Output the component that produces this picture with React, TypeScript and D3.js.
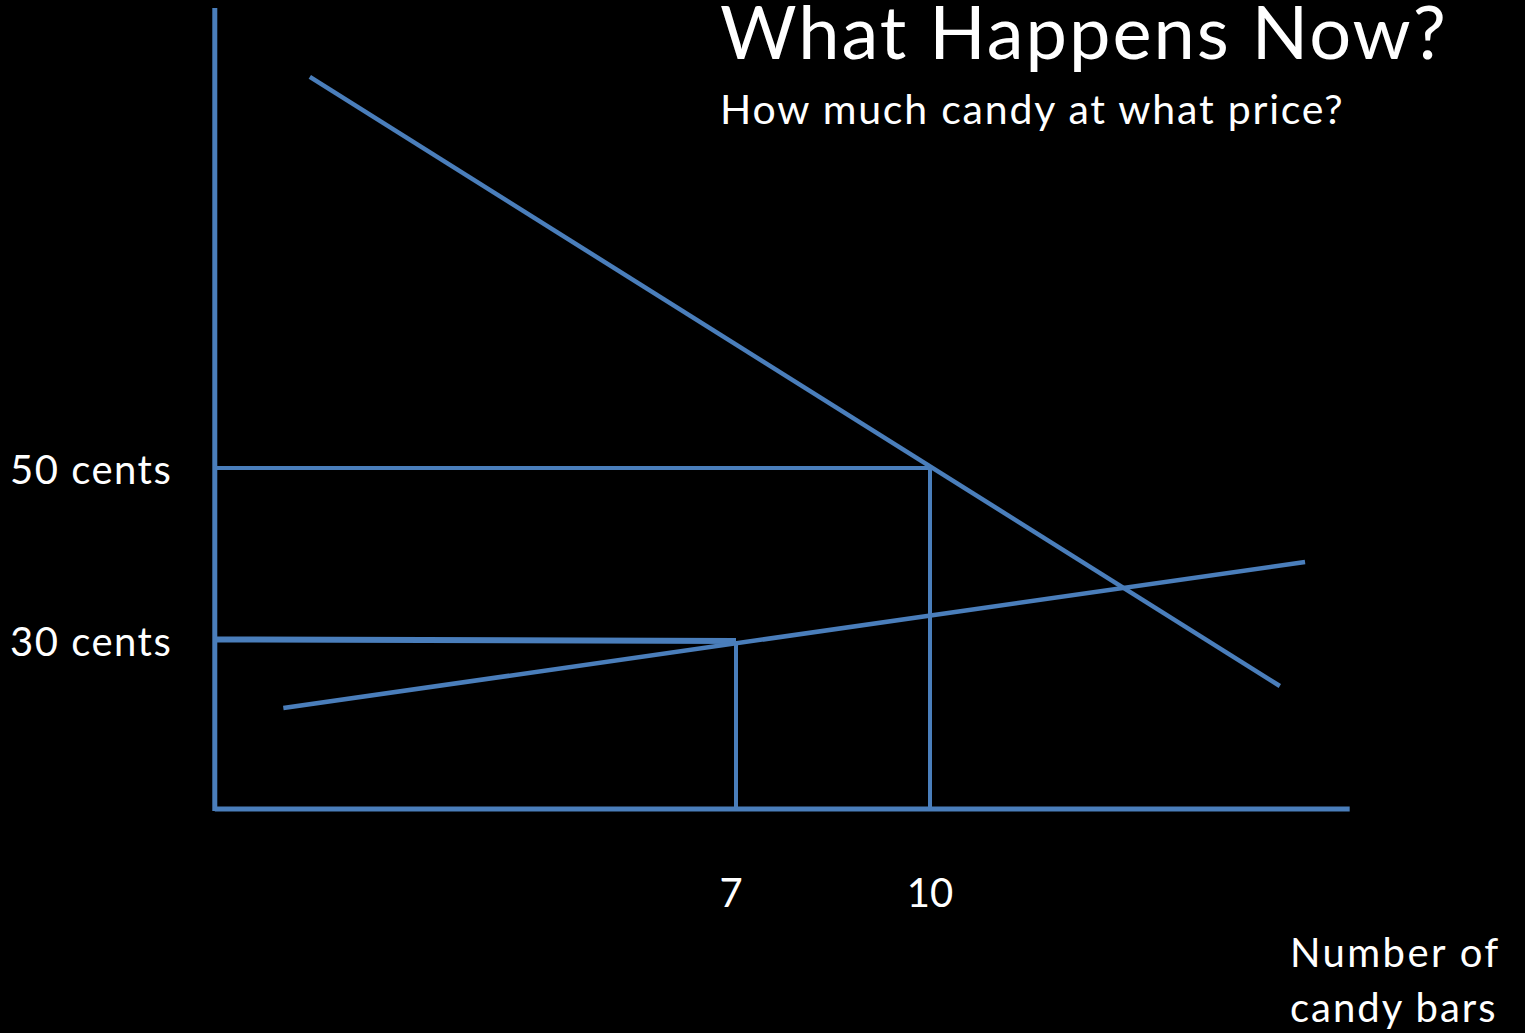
import React from "react";
import * as d3 from "d3";

// Quantity (candy bars) and price (cents) tick values
const quantityTicks = [7, 10];
const priceTicks = [30, 50];
const priceTickLabels = ["30 cents", "50 cents"];

// Axis extents in data units
const xAxisExtent = [-1.06, 16.49];
const yAxisExtent = [10.35, 103.5];

// Demand and supply curves (quantity, price)
const demandLine: [number, number][] = [[0.41, 95.47], [15.41, 24.65]];
const supplyLine: [number, number][] = [[0.0, 22.09], [15.8, 39.07]];

// Guide lines
const guide50: [number, number][] = [[-1.06, 50], [10, 50], [10, 10.35]];
const guide30: [number, number][] = [[-1.06, 30.06], [7, 29.88]];
const guide7: [number, number][] = [[7, 29.88], [7, 10.35]];

const W = 1525;
const H = 1033;
const COLOR = "#4a7ebb";
const FONT = "Lato, 'Open Sans', sans-serif";

export default function App() {
  const x = d3.scaleLinear().domain([7, 10]).range([736, 930]);
  const y = d3.scaleLinear().domain([30, 50]).range([640, 468]);
  const line = d3.line<[number, number]>().x((d) => x(d[0])).y((d) => y(d[1]));

  return (
    <svg width={W} height={H} style={{ position: "fixed", left: 0, top: 0, background: "#000" }}>
      <rect width={W} height={H} fill="#000" />
      {/* axes */}
      <line x1={x(xAxisExtent[0])} x2={x(xAxisExtent[0])} y1={y(yAxisExtent[1])} y2={y(yAxisExtent[0]) + 2} stroke={COLOR} strokeWidth={5} />
      <line x1={x(xAxisExtent[0])} x2={x(xAxisExtent[1])} y1={y(yAxisExtent[0])} y2={y(yAxisExtent[0])} stroke={COLOR} strokeWidth={5} />
      {/* guides */}
      <path d={line(guide50) || ""} fill="none" stroke={COLOR} strokeWidth={4} />
      <path d={line(guide30) || ""} fill="none" stroke={COLOR} strokeWidth={6} />
      <path d={line(guide7) || ""} fill="none" stroke={COLOR} strokeWidth={4} />
      {/* curves */}
      <path d={line(demandLine) || ""} fill="none" stroke={COLOR} strokeWidth={4.5} />
      <path d={line(supplyLine) || ""} fill="none" stroke={COLOR} strokeWidth={4.5} />
      {/* tick labels */}
      {priceTicks.map((p, i) => (
        <text key={p} x={10} y={y(p) + 16} fill="#fff" fontFamily={FONT} fontSize={40} letterSpacing={1.5}>
          {priceTickLabels[i]}
        </text>
      ))}
      {quantityTicks.map((q) => (
        <text key={q} x={q === 7 ? x(q) - 5 : x(q)} y={907} fill="#fff" fontFamily={FONT} fontSize={40} textAnchor="middle">
          {q}
        </text>
      ))}
      <text x={1290} y={967} fill="#fff" fontFamily={FONT} fontSize={40} letterSpacing={2.4}>Number of</text>
      <text x={1290} y={1022} fill="#fff" fontFamily={FONT} fontSize={40} letterSpacing={2}>candy bars</text>
      {/* titles */}
      <text x={720} y={59} fill="#fff" fontFamily={FONT} fontSize={74} letterSpacing={2}>What Happens Now?</text>
      <text x={720} y={124} fill="#fff" fontFamily={FONT} fontSize={41} letterSpacing={1.8}>How much candy at what price?</text>
    </svg>
  );
}
